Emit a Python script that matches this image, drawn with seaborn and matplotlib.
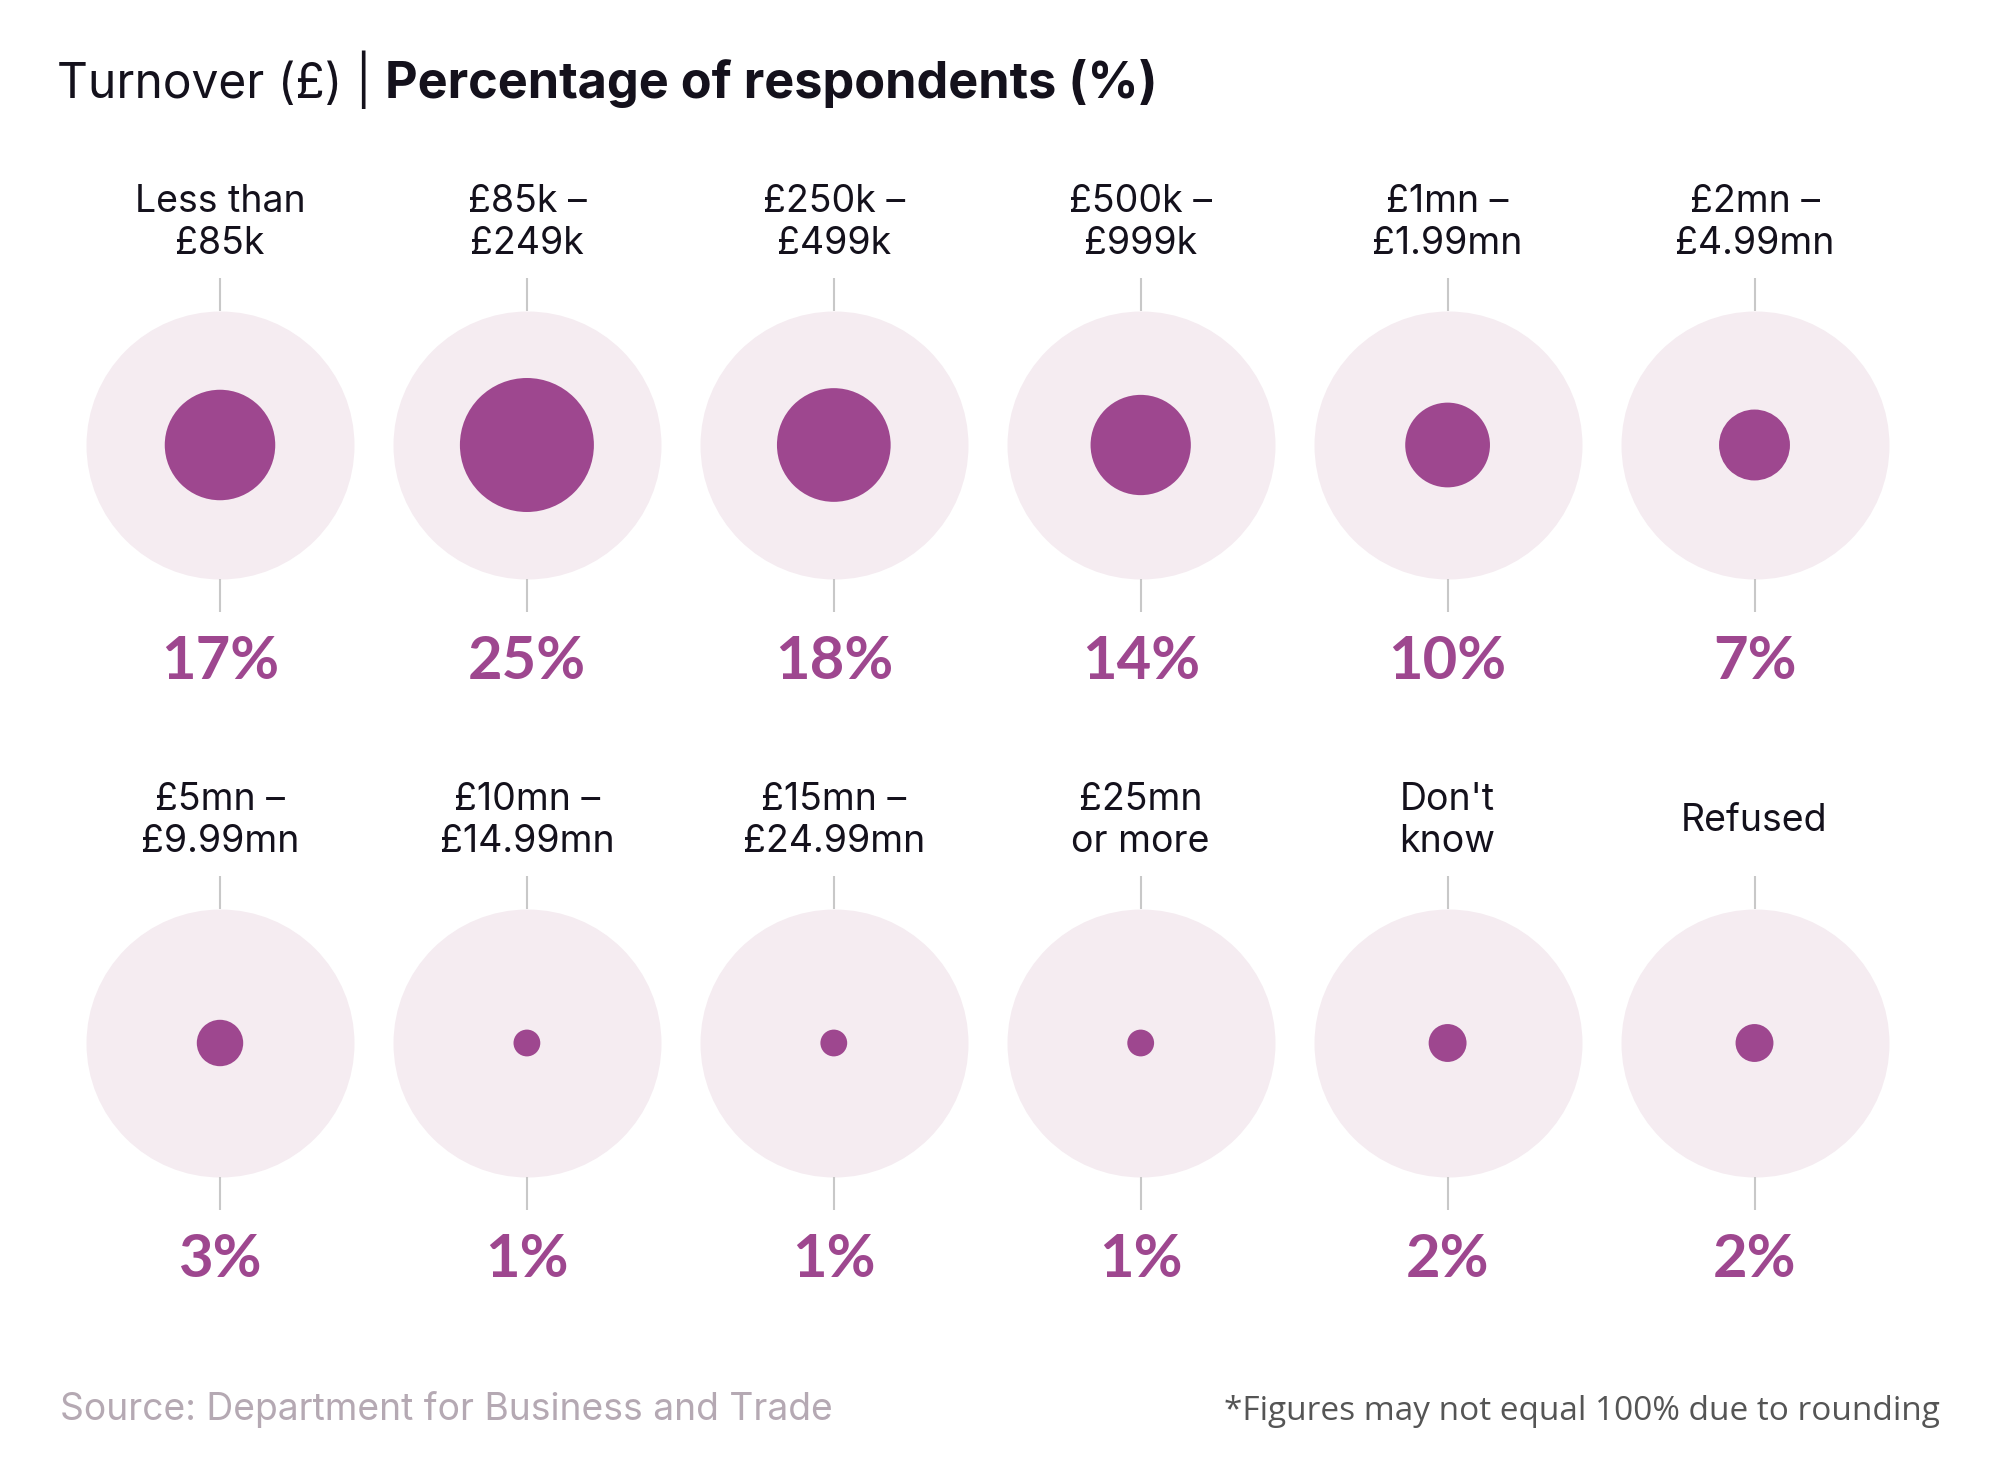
import numpy as np
import pandas as pd
import matplotlib
matplotlib.use('Agg')  # headless
import matplotlib.pyplot as plt
import seaborn as sns

# data
labels = ['Less than\n£85k', '£85k –\n£249k', '£250k –\n£499k', '£500k –\n£999k', '£1mn –\n£1.99mn', '£2mn –\n£4.99mn',
          '£5mn –\n£9.99mn', '£10mn –\n£14.99mn', '£15mn –\n£24.99mn', '£25mn\nor more', "Don't\nknow", 'Refused']
pcts = [17, 25, 18, 14, 10, 7, 3, 1, 1, 1, 2, 2]
value_labels = ['17%', '25%', '18%', '14%', '10%', '7%', '3%', '1%', '1%', '1%', '2%', '2%']

PURPLE = '#9e478f'
PALE = '#f5ecf1'
W, H, DPI = 2000, 1480, 100
X0, DX = 220, 306.9  # col centre px, col step px
Y0, DY = 445, 598  # row centre px, row step px
R_OUT = 134.0  # outer radius px (=100%)

df = pd.DataFrame({'label': labels, 'pct': pcts, 'val': value_labels})
df['col'] = np.arange(len(df)) % 6
df['row'] = np.arange(len(df)) // 6

sns.set_theme(style='white')
plt.rcParams['font.family'] = ['Inter', 'DejaVu Sans']

fig = plt.figure(figsize=(W / DPI, H / DPI), dpi=DPI)
ax = fig.add_axes([0, 0, 1, 1])
ax.set_xlim(-X0 / DX, (W - X0) / DX)
ax.set_ylim((H - Y0) / DY, -Y0 / DY)
ax.axis('off')

s_full = (2 * R_OUT * 72 / DPI) ** 2  # pt^2 for 100%
sns.scatterplot(data=df, x='col', y='row', s=s_full, color=PALE, linewidth=0, legend=False, ax=ax)  # bg circles
sns.scatterplot(data=df, x='col', y='row', size='pct', sizes=(0, s_full), size_norm=(0, 100),
                color=PURPLE, linewidth=0, legend=False, ax=ax)  # pct circles

# tick lines
ax.vlines(df['col'], df['row'] - (R_OUT + 33) / DY, df['row'] - R_OUT / DY, color='#c8c8c8', lw=1.5)
ax.vlines(df['col'], df['row'] + R_OUT / DY, df['row'] + (R_OUT + 33) / DY, color='#c8c8c8', lw=1.5)

for _, r in df.iterrows():
    ax.text(r['col'], r['row'] - 222 / DY, r['label'], ha='center', va='center', fontsize=27,
            color='#14111c', linespacing=1.25)
    ax.text(r['col'], r['row'] + 234 / DY, r['val'], ha='center', va='baseline', fontsize=43,
            fontweight='bold', family=['Lato', 'DejaVu Sans'], color=PURPLE)

# title
t1 = fig.text(57 / W, 1 - 98 / H, 'Turnover (£) | ', fontsize=34.5, color='#14111c', va='baseline')
fig.canvas.draw()
bb = t1.get_window_extent()
fig.text(bb.x1 / W, 1 - 98 / H, 'Percentage of respondents (%)', fontsize=36.3, fontweight='bold',
         color='#14111c', va='baseline')

# footer
fig.text(60 / W, 1 - 1420 / H, 'Source: Department for Business and Trade', fontsize=26.8, color='#b5a9b3',
         va='baseline')
fig.text(1940 / W, 1 - 1420 / H, '*Figures may not equal 100% due to rounding', fontsize=24,
         family=['Open Sans', 'DejaVu Sans'], color='#555555', ha='right', va='baseline')

plt.savefig('out.png', dpi=DPI, facecolor='white')
plt.close()
